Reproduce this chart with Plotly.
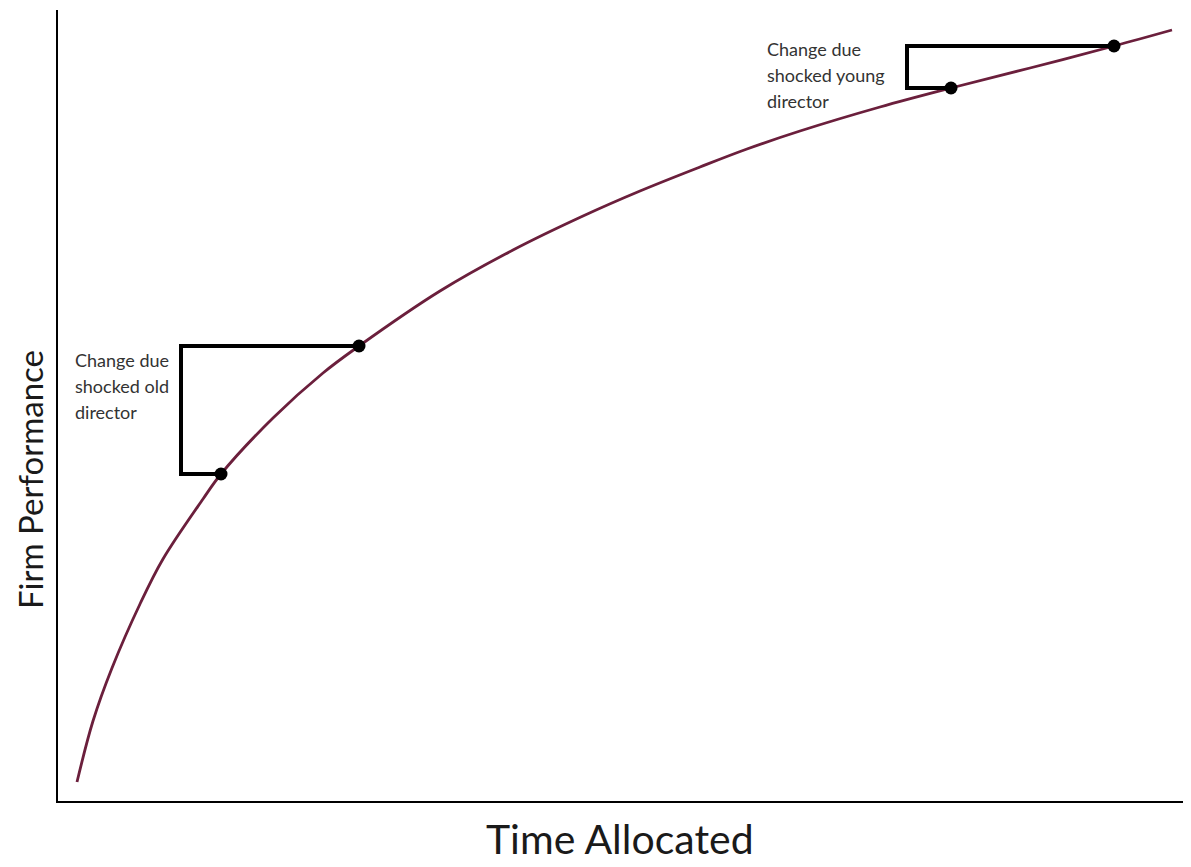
import plotly.graph_objects as go

# Curve: time allocated vs firm performance (arbitrary units)
time_vals = [19, 35, 54, 82, 105, 145, 163, 215, 265, 301, 382, 455, 525, 582, 642, 689, 742, 822, 893, 972, 1056, 1114]
perf_vals = [19, 80, 133, 197, 242, 302, 327, 383, 428, 455, 510, 551, 585, 610, 634, 652, 670, 694, 713, 733, 755, 771]

# Shock points
old_time = [163, 301]
old_perf = [327, 455]
young_time = [893, 1056]
young_perf = [713, 755]
old_bracket_x = 123
young_bracket_x = 849

old_label = ["Change due", "shocked old", "director"]
young_label = ["Change due", "shocked young", "director"]
x_title = "Time Allocated"
y_title = "Firm Performance"

fig = go.Figure()

fig.add_trace(go.Scatter(
    x=time_vals, y=perf_vals, mode="lines",
    line=dict(color="#6b1f3c", width=2.8, shape="spline", smoothing=1.0),
    hoverinfo="skip", showlegend=False))

# Brackets
for (tx, py), bx in [((old_time, old_perf), old_bracket_x), ((young_time, young_perf), young_bracket_x)]:
    fig.add_trace(go.Scatter(
        x=[tx[1], bx, bx, tx[0]], y=[py[1], py[1], py[0], py[0]],
        mode="lines", line=dict(color="black", width=4),
        hoverinfo="skip", showlegend=False))

fig.add_trace(go.Scatter(
    x=old_time + young_time, y=old_perf + young_perf, mode="markers",
    marker=dict(color="black", size=13),
    hoverinfo="skip", showlegend=False))

label_font = dict(family="Lato", size=18, color="#333333")
annotations = []
for i, t in enumerate(old_label):
    annotations.append(dict(x=15, y=441 - 26 * i, xref="x", yref="y", text=t, showarrow=False,
                            xanchor="left", yanchor="middle", font=label_font))
for i, t in enumerate(young_label):
    annotations.append(dict(x=707, y=752 - 26 * i, xref="x", yref="y", text=t, showarrow=False,
                            xanchor="left", yanchor="middle", font=label_font))
annotations.append(dict(x=0.496, y=-0.047, xref="paper", yref="paper", text=x_title, showarrow=False,
                        xanchor="center", yanchor="middle",
                        font=dict(family="Lato", size=41, color="#1a1a1a")))
annotations.append(dict(x=-0.0245, y=0.406, xref="paper", yref="paper", text=y_title, showarrow=False,
                        textangle=-90, xanchor="center", yanchor="middle",
                        font=dict(family="Lato", size=33, color="#1a1a1a")))

fig.update_layout(
    width=1191, height=867,
    margin=dict(l=50, r=8, t=2, b=74),
    paper_bgcolor="white", plot_bgcolor="white",
    annotations=annotations,
    xaxis=dict(range=[0, 1133], showgrid=False, zeroline=False, showticklabels=False,
               ticks="", showline=True, linecolor="black", linewidth=2),
    yaxis=dict(range=[0, 791], showgrid=False, zeroline=False, showticklabels=False,
               ticks="", showline=True, linecolor="black", linewidth=2),
)

fig.write_html("out.html")
